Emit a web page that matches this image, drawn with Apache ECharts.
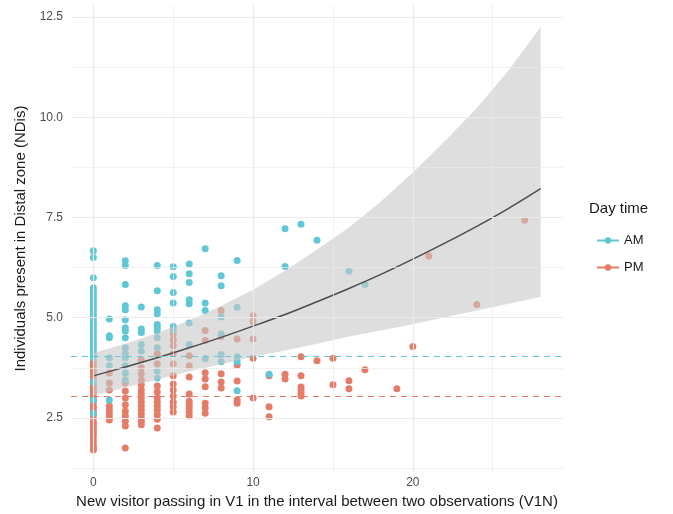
<!DOCTYPE html>
<html lang="en">
<head>
<meta charset="UTF-8">
<title>NDis vs V1N</title>
<script src="https://cdn.jsdelivr.net/npm/echarts@6/dist/echarts.min.js"></script>
<style>
  body { margin: 0; padding: 0; background: #fff; }
  #main { width: 673px; height: 514px; }
</style>
</head>
<body>
<div id="main"></div>
<script>
// observations [V1N, NDis]
const amPoints = [
  [0,6.67],[0,6.5],[0,6.0],[0,5.75],[0,5.67],[0,5.58],[0,5.5],[0,5.42],[0,5.33],[0,5.25],[0,5.17],[0,5.08],
  [0,5.0],[0,4.92],[0,4.83],[0,4.75],[0,4.67],[0,4.58],[0,4.5],[0,4.42],[0,4.33],[0,4.25],[0,4.17],[0,4.08],
  [0,4.0],[0,3.4],[0,2.95],[0,2.62],
  [1,4.97],[1,4.55],[1,4.5],[1,4.0],[1,3.8],[1,2.95],
  [2,6.42],[2,6.3],[2,5.83],[2,5.3],[2,5.2],[2,4.95],[2,4.75],[2,4.67],[2,4.5],[2,4.25],[2,4.1],[2,4.0],[2,3.8],[2,3.62],[2,3.45],
  [3,5.27],[3,4.72],[3,4.63],[3,4.33],[3,4.17],
  [4,6.3],[4,5.67],[4,5.2],[4,5.1],[4,4.83],[4,4.75],[4,4.67],[4,4.5],[4,4.25],[4,3.67],[4,3.5],
  [5,6.27],[5,6.03],[5,5.63],[5,5.37],[5,4.78],[5,4.7],
  [6,6.34],[6,6.1],[6,5.88],[6,5.45],[6,5.35],[6,4.87],[6,4.33],
  [7,6.72],[7,5.37],[7,5.18],[7,3.98],
  [8,6.05],[8,5.8],[8,5.02],[8,4.6],[8,4.08],[8,3.9],
  [9,6.43],[9,5.26],[9,4.03],[9,3.9],[9,3.18],
  [11,3.59],
  [12,7.22],[12,6.28],
  [13,7.33],
  [14,6.93],
  [16,6.16],
  [17,5.83]
];
const pmPoints = [
  [0,3.9],[0,3.8],[0,3.7],[0,3.6],[0,3.5],[0,3.4],[0,3.33],[0,3.25],[0,3.17],[0,3.1],[0,3.0],[0,2.9],[0,2.8],
  [0,2.75],[0,2.67],[0,2.6],[0,2.5],[0,2.4],[0,2.33],[0,2.25],[0,2.17],[0,2.1],[0,2.0],[0,1.9],[0,1.8],[0,1.75],[0,1.7],
  [1,3.62],[1,3.37],[1,3.2],[1,2.8],[1,2.7],[1,2.6],[1,2.5],[1,2.45],
  [2,3.37],[2,3.17],[2,3.0],[2,2.83],[2,2.67],[2,2.55],[2,2.42],[2,2.3],[2,1.75],
  [3,3.95],[3,3.75],[3,3.6],[3,3.45],[3,3.33],[3,3.2],[3,3.1],[3,3.0],[3,2.9],[3,2.8],[3,2.7],[3,2.6],[3,2.5],[3,2.42],[3,2.33],
  [4,4.1],[4,3.85],[4,3.3],[4,3.15],[4,3.0],[4,2.9],[4,2.8],[4,2.7],[4,2.58],[4,2.47],[4,2.25],
  [5,4.6],[5,4.45],[5,4.3],[5,4.1],[5,3.85],[5,3.55],[5,3.35],[5,3.2],[5,3.05],[5,2.9],[5,2.78],[5,2.65],
  [6,4.05],[6,3.8],[6,3.52],[6,3.1],[6,2.92],[6,2.83],[6,2.75],[6,2.65],[6,2.55],
  [7,4.68],[7,4.43],[7,3.63],[7,3.47],[7,3.28],[7,2.87],[7,2.75],[7,2.62],
  [8,5.18],[8,4.53],[8,3.6],[8,3.4],[8,3.25],
  [9,4.47],[9,3.82],[9,3.42],[9,2.95],[9,2.87],
  [10,5.05],[10,4.9],[10,4.47],[10,3.99],[10,3.0],
  [11,3.55],[11,2.78],[11,2.53],
  [12,3.59],[12,3.47],
  [13,4.03],[13,3.55],[13,3.27],[13,3.2],[13,3.12],[13,3.05],
  [14,3.93],
  [15,3.99],[15,3.33],
  [16,3.43],[16,3.23],
  [17,3.7],
  [19,3.23],
  [20,4.28],
  [21,6.54],
  [24,5.33],
  [27,7.43]
];

// fitted curve and its confidence band
const fitX = [0, 2, 4, 6, 8, 10, 12, 14, 16, 18, 20, 22, 24, 26, 28];
const fitY = [3.55, 3.77, 4.0, 4.25, 4.51, 4.79, 5.08, 5.4, 5.73, 6.08, 6.46, 6.86, 7.28, 7.73, 8.22];
const bandUpper = [4.12, 4.35, 4.62, 4.93, 5.3, 5.7, 6.17, 6.7, 7.25, 7.9, 8.62, 9.4, 10.23, 11.17, 12.25];
const bandLower = [3.06, 3.26, 3.46, 3.66, 3.84, 4.03, 4.18, 4.35, 4.53, 4.68, 4.84, 5.01, 5.18, 5.35, 5.52];

const amMean = 4.03;
const pmMean = 3.03;

const xTicks = [0, 10, 20];
const yTicks = [2.5, 5, 7.5, 10, 12.5];
const xGrid = [0, 5, 10, 15, 20, 25];
const yGrid = [1.25, 2.5, 3.75, 5, 6.25, 7.5, 8.75, 10, 11.25, 12.5];

const amColor = '#5fc8d4';
const pmColor = '#e47c67';

const chart = echarts.init(document.getElementById('main'));

function gridLines() {
  const lines = [];
  xGrid.forEach(v => lines.push({ xAxis: v, lineStyle: { type: 'solid', color: '#ebebeb', width: v % 10 === 0 ? 1.2 : 0.7 } }));
  yGrid.forEach(v => lines.push({ yAxis: v, lineStyle: { type: 'solid', color: '#ebebeb', width: v % 2.5 === 0 ? 1.2 : 0.7 } }));
  return lines;
}

const option = {
  animation: false,
  textStyle: { fontFamily: 'Liberation Sans, Arial, sans-serif' },
  grid: { left: 71, right: 110, top: 5, bottom: 38 },
  xAxis: {
    type: 'value', min: -1.4, max: 29.4,
    splitLine: { show: false }, axisLine: { show: false }, axisTick: { show: false },
    axisLabel: { customValues: xTicks, color: '#4d4d4d', fontSize: 12, margin: 5 },
    name: 'New visitor passing in V1 in the interval between two observations (V1N)',
    nameLocation: 'middle', nameGap: 19,
    nameTextStyle: { color: '#1a1a1a', fontSize: 15 }
  },
  yAxis: {
    type: 'value', min: 1.15, max: 12.8,
    splitLine: { show: false }, axisLine: { show: false }, axisTick: { show: false },
    axisLabel: { customValues: yTicks, color: '#4d4d4d', fontSize: 12, margin: 8, formatter: v => v.toFixed(1) },
    name: 'Individuals present in Distal zone (NDis)',
    nameLocation: 'middle', nameGap: 36,
    nameTextStyle: { color: '#1a1a1a', fontSize: 15 }
  },
  legend: {
    data: ['AM', 'PM'], orient: 'vertical', left: 591, top: 229,
    itemWidth: 22, itemHeight: 8, itemGap: 14,
    textStyle: { fontSize: 13, color: '#1a1a1a' }
  },
  graphic: [{
    type: 'text', left: 589, top: 201,
    style: { text: 'Day time', font: '15px Liberation Sans, Arial, sans-serif', fill: '#1a1a1a' }
  }],
  series: [
    {
      type: 'scatter', data: [], silent: true, z: 0,
      markLine: { silent: true, symbol: 'none', label: { show: false }, data: gridLines() }
    },
    {
      type: 'scatter', data: pmPoints, symbolSize: 7, z: 2,
      itemStyle: { color: pmColor, opacity: 1 }
    },
    {
      type: 'scatter', data: amPoints, symbolSize: 7, z: 2,
      itemStyle: { color: amColor, opacity: 1 }
    },
    {
      type: 'custom', z: 3, silent: true,
      data: [[fitX[0], fitY[0]]],
      renderItem: function (params, api) {
        const pts = [];
        for (let i = 0; i < fitX.length; i++) pts.push(api.coord([fitX[i], bandUpper[i]]));
        for (let i = fitX.length - 1; i >= 0; i--) pts.push(api.coord([fitX[i], bandLower[i]]));
        return { type: 'polygon', shape: { points: pts }, style: { fill: 'rgba(200,200,200,0.6)' } };
      }
    },
    {
      type: 'line', data: fitX.map((x, i) => [x, fitY[i]]), z: 4,
      showSymbol: false, silent: true, smooth: 0.3,
      lineStyle: { color: '#4d4d4d', width: 1.5 }
    },
    {
      name: 'AM', type: 'line', data: [], z: 5, symbol: 'circle', symbolSize: 7,
      itemStyle: { color: amColor }, lineStyle: { color: amColor, width: 1.2 },
      markLine: {
        silent: true, symbol: 'none', label: { show: false },
        lineStyle: { color: amColor, type: [6, 5], width: 1.1 },
        data: [{ yAxis: amMean }]
      }
    },
    {
      name: 'PM', type: 'line', data: [], z: 5, symbol: 'circle', symbolSize: 7,
      itemStyle: { color: pmColor }, lineStyle: { color: pmColor, width: 1.2 },
      markLine: {
        silent: true, symbol: 'none', label: { show: false },
        lineStyle: { color: pmColor, type: [6, 5], width: 1.1 },
        data: [{ yAxis: pmMean }]
      }
    }
  ]
};

chart.setOption(option);
</script>
</body>
</html>
